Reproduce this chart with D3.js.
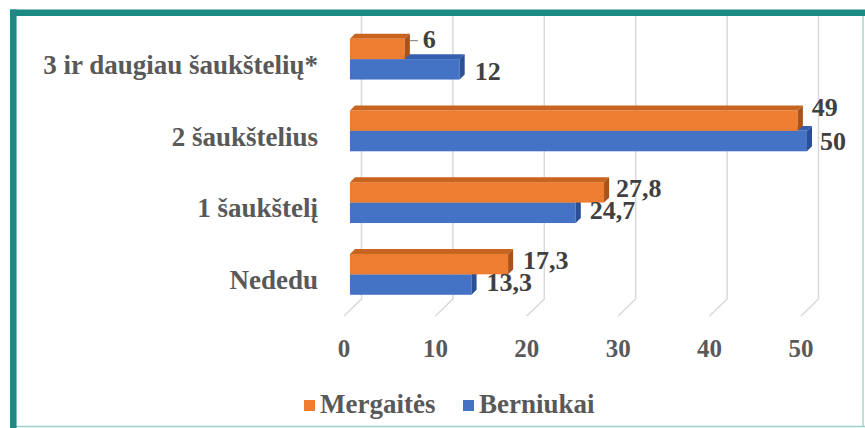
<!DOCTYPE html>
<html>
<head>
<meta charset="utf-8">
<script src="https://cdn.jsdelivr.net/npm/d3@7"></script>
<style>
  html, body { margin: 0; padding: 0; background: #fff; }
</style>
</head>
<body>
<svg id="chart" width="865" height="428"></svg>
<script>
// data
var categories = ["3 ir daugiau šaukštelių*", "2 šaukštelius", "1 šaukštelį", "Nededu"];
var seriesNames = ["Mergaitės", "Berniukai"];
var mergaites = [6, 49, 27.8, 17.3];
var berniukai = [12, 50, 24.7, 13.3];
var valueLabels = [["6", "49", "27,8", "17,3"], ["12", "50", "24,7", "13,3"]];
var ticks = [0, 10, 20, 30, 40, 50];

// layout
var font = "'Liberation Serif'";
var colors = {
    "Mergaitės": { front: "#ED7D31", top: "#C8641F", side: "#A9531A" },
    "Berniukai": { front: "#4472C4", top: "#3560AE", side: "#2A4F94" }
};
var depth = { dx: 17.5, dy: -17 };     // offset from floor front edge to back wall
var barZ = [0.34, 0.63];               // bar front / back depth
var floorY = 316, wallTop = 16;
// small nudges Excel applied to some value labels [dx, dy]
var labelNudge = [
    [[4, -6], [1, 4]],
    [[0, -9], [-1, 3]],
    [[-2, 0], [0, 0]],
    [[1, 0], [1, 0]]
];

var svg = d3.select("#chart");

// frame
svg.append("line").attr("x1", 863).attr("x2", 863).attr("y1", 12).attr("y2", 427)
    .attr("stroke", "#a9d6d3").attr("stroke-width", 1.5);
svg.append("line").attr("x1", 12).attr("x2", 865).attr("y1", 426.5).attr("y2", 426.5)
    .attr("stroke", "#9fd0cc").attr("stroke-width", 1.5);
svg.append("line").attr("x1", 10).attr("x2", 865).attr("y1", 12.8).attr("y2", 12.8)
    .attr("stroke", "#1B8A85").attr("stroke-width", 6.5);
svg.append("line").attr("x1", 13.3).attr("x2", 13.3).attr("y1", 9.5).attr("y2", 428)
    .attr("stroke", "#1B8A85").attr("stroke-width", 6.5);

var x = d3.scaleLinear().domain([0, 50]).range([344, 801]);
var y = d3.scaleBand().domain(categories).range([29, floorY])
    .paddingInner(0.43).paddingOuter(0.215);
var ySub = d3.scaleBand().domain(seriesNames).range([0, y.bandwidth()]);

function px(v, z) { return x(v) + z * depth.dx; }
function py(yy, z) { return yy + z * depth.dy; }

// gridlines: back wall + floor diagonal
var grid = svg.append("g");
ticks.forEach(function (t) {
    var pts = [[px(t, 1), wallTop], [px(t, 1), py(floorY, 1)], [px(t, 0), floorY]];
    grid.append("path")
        .attr("d", d3.line()(pts))
        .attr("fill", "none")
        .attr("stroke", "#d9d9d9")
        .attr("stroke-width", 1.5);
});

// tick labels
svg.append("g").selectAll("text")
    .data(ticks)
    .enter()
    .append("text")
    .attr("x", function (d) { return x(d); })
    .attr("y", 357)
    .attr("text-anchor", "middle")
    .style("font-family", font)
    .style("font-weight", "bold")
    .style("font-size", "25px")
    .attr("fill", "#595959")
    .text(function (d) { return d; });

// category labels
svg.append("g").selectAll("text")
    .data(categories)
    .enter()
    .append("text")
    .attr("x", 318)
    .attr("y", function (d) { return y(d) + y.bandwidth() / 2 + 9; })
    .attr("text-anchor", "end")
    .style("font-family", font)
    .style("font-weight", "bold")
    .style("font-size", "27px")
    .attr("fill", "#595959")
    .text(function (d) { return d; });

// bars, drawn bottom series first so the upper one covers its top face
var seriesData = [mergaites, berniukai];
var bars = svg.append("g");
[1, 0].forEach(function (si) {
    var name = seriesNames[si];
    var c = colors[name];
    categories.forEach(function (cat, ci) {
        var v = seriesData[si][ci];
        var y0 = y(cat) + ySub(name), y1 = y0 + ySub.bandwidth();
        var z0 = barZ[0], z1 = barZ[1];
        var xl = px(0, z0), xr = px(v, z0);
        var xl1 = px(0, z1), xr1 = px(v, z1);
        var top = [[xl, py(y0, z0)], [xl1, py(y0, z1)], [xr1, py(y0, z1)], [xr, py(y0, z0)]];
        var side = [[xr, py(y0, z0)], [xr1, py(y0, z1)], [xr1, py(y1, z1)], [xr, py(y1, z0)]];
        bars.append("path").attr("d", d3.line()(top) + "Z").attr("fill", c.top);
        bars.append("rect")
            .attr("x", xl).attr("y", py(y0, z0))
            .attr("width", xr - xl).attr("height", y1 - y0)
            .attr("fill", c.front);
        bars.append("path").attr("d", d3.line()(side) + "Z").attr("fill", c.side);
    });
});

// value labels
var labels = svg.append("g");
seriesNames.forEach(function (name, si) {
    categories.forEach(function (cat, ci) {
        var v = seriesData[si][ci];
        var y0 = py(y(cat) + ySub(name), barZ[0]);
        var yb = si === 0 ? y0 + 15 : y0 + ySub.bandwidth() - 4;
        var n = labelNudge[ci][si];
        labels.append("text")
            .attr("x", px(v, barZ[0]) + 14 + n[0])
            .attr("y", yb + n[1])
            .style("font-family", font)
            .style("font-weight", "bold")
            .style("font-size", "26px")
            .attr("fill", "#404040")
            .text(valueLabels[si][ci]);
    });
});
// leader line for the short "6" label
var ly = py(y(categories[0]) + ySub(seriesNames[0]), barZ[0]) + 2;
labels.append("line")
    .attr("x1", px(mergaites[0], barZ[1])).attr("x2", px(mergaites[0], barZ[1]) + 8)
    .attr("y1", ly).attr("y2", ly)
    .attr("stroke", "#8c8c8c").attr("stroke-width", 1.2);

// legend
var legendX = [304, 463];
var legend = svg.append("g").selectAll("g")
    .data(seriesNames)
    .enter()
    .append("g")
    .attr("transform", function (d, i) { return "translate(" + legendX[i] + ",400)"; });
legend.append("rect")
    .attr("width", 11).attr("height", 11)
    .attr("fill", function (d) { return colors[d].front; });
legend.append("text")
    .attr("x", 16).attr("y", 13)
    .style("font-family", font)
    .style("font-weight", "bold")
    .style("font-size", "27px")
    .attr("fill", "#595959")
    .text(function (d) { return d; });
</script>
</body>
</html>
